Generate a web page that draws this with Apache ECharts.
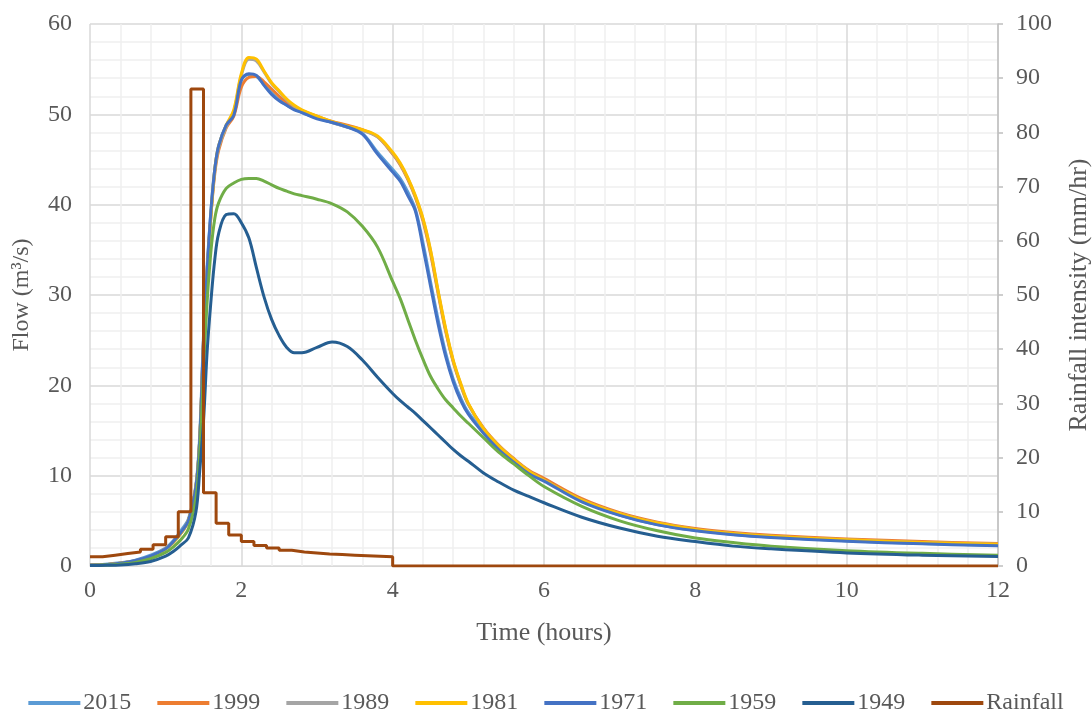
<!DOCTYPE html>
<html>
<head>
<meta charset="utf-8">
<script src="https://cdn.jsdelivr.net/npm/echarts@6/dist/echarts.min.js"></script>
<style>
  html, body { margin: 0; padding: 0; background: #fff; }
  #main { width: 1092px; height: 710px; }
</style>
</head>
<body>
<div id="main"></div>
<script>
  // time axis (hours), shared by all flow series
  var hours = [0, 0.2, 0.4, 0.6, 0.8, 1.0, 1.1, 1.2, 1.3, 1.4, 1.45, 1.5, 1.55, 1.6, 1.65, 1.7, 1.8, 1.9, 2.0, 2.1,
    2.2, 2.3, 2.4, 2.5, 2.6, 2.7, 2.8, 3.0, 3.2, 3.4, 3.6, 3.8, 4.0, 4.1, 4.2, 4.3, 4.4, 4.5, 4.6, 4.7,
    4.8, 4.9, 5.0, 5.2, 5.4, 5.6, 5.8, 6.0, 6.5, 7.0, 7.5, 8.0, 8.5, 9.0, 10.0, 11.0, 12.0];

  // flow (m3/s)
  var flow2015 = [0.1, 0.2, 0.35, 0.65, 1.2, 2.0, 2.8, 3.9, 5.2, 9.0, 14.5, 25.5, 33.5, 39.5, 44.0, 46.5, 48.8, 50.0, 53.8, 54.4,
    54.2, 53.3, 52.4, 51.6, 51.0, 50.6, 50.2, 49.6, 49.1, 48.6, 47.9, 45.8, 43.9, 42.9, 41.4, 39.5, 35.8, 31.5, 27.3, 23.6,
    20.7, 18.6, 17.0, 14.9, 13.1, 11.6, 10.3, 9.5, 7.2, 5.65, 4.6, 3.95, 3.5, 3.2, 2.8, 2.5, 2.3];
  var flow1999 = [0.1, 0.15, 0.3, 0.55, 1.0, 1.9, 2.6, 3.6, 5.0, 8.8, 14.0, 25.0, 33.0, 39.0, 43.5, 46.0, 48.5, 49.8, 53.0, 54.1,
    54.2, 53.6, 52.8, 52.0, 51.3, 50.8, 50.4, 49.8, 49.2, 48.8, 48.3, 47.5, 45.6, 44.4, 42.8, 40.8, 38.2, 34.6, 30.2, 26.0,
    22.6, 20.0, 17.9, 15.3, 13.4, 11.9, 10.6, 9.7, 7.45, 5.9, 4.85, 4.15, 3.7, 3.4, 3.0, 2.7, 2.5];
  var flow1989 = [0.1, 0.15, 0.3, 0.55, 1.0, 1.9, 2.6, 3.6, 5.0, 8.8, 14.0, 24.5, 32.5, 39.0, 43.8, 46.3, 48.6, 50.3, 54.3, 56.1,
    55.9, 54.7, 53.4, 52.5, 51.6, 50.9, 50.4, 49.7, 49.1, 48.6, 48.2, 47.5, 45.7, 44.5, 42.9, 40.9, 38.4, 34.9, 30.4, 26.2,
    22.7, 20.1, 17.9, 15.2, 13.3, 11.8, 10.5, 9.5, 7.3, 5.8, 4.75, 4.05, 3.6, 3.3, 2.9, 2.6, 2.4];
  var flow1981 = [0.1, 0.15, 0.3, 0.55, 1.0, 1.9, 2.6, 3.6, 5.0, 8.8, 14.0, 24.5, 32.5, 39.0, 44.0, 46.5, 48.8, 50.5, 54.5, 56.3,
    56.1, 54.8, 53.5, 52.6, 51.7, 51.0, 50.5, 49.8, 49.2, 48.7, 48.3, 47.6, 45.8, 44.6, 43.0, 41.0, 38.5, 35.0, 30.5, 26.3,
    22.8, 20.2, 18.0, 15.2, 13.3, 11.8, 10.5, 9.5, 7.3, 5.8, 4.75, 4.05, 3.6, 3.3, 2.9, 2.6, 2.4];
  var flow1971 = [0.1, 0.15, 0.3, 0.6, 1.1, 1.9, 2.7, 3.7, 5.0, 8.8, 14.0, 25.0, 33.0, 39.5, 44.0, 46.5, 48.8, 49.9, 53.8, 54.5,
    54.3, 53.2, 52.2, 51.5, 51.0, 50.5, 50.2, 49.5, 49.1, 48.6, 47.8, 45.6, 43.6, 42.6, 41.0, 39.3, 35.3, 31.0, 26.8, 23.2,
    20.4, 18.3, 16.8, 14.7, 12.9, 11.5, 10.2, 9.4, 7.1, 5.6, 4.55, 3.9, 3.45, 3.15, 2.75, 2.45, 2.25];
  var flow1959 = [0.05, 0.1, 0.2, 0.4, 0.8, 1.5, 2.1, 2.9, 4.1, 7.5, 12.5, 21.5, 29.5, 35.0, 38.5, 40.2, 41.8, 42.4, 42.8, 42.9,
    42.9, 42.6, 42.2, 41.8, 41.5, 41.2, 41.0, 40.6, 40.1, 39.2, 37.6, 35.3, 31.5, 29.6, 27.3, 25.0, 22.9, 21.0, 19.6, 18.4,
    17.5, 16.6, 15.8, 14.2, 12.6, 11.3, 10.0, 8.8, 6.6, 5.0, 3.9, 3.1, 2.6, 2.2, 1.7, 1.4, 1.2];
  var flow1949 = [0.05, 0.08, 0.12, 0.25, 0.5, 1.1, 1.6, 2.3, 3.1, 6.0, 10.5, 16.0, 24.0, 29.5, 34.0, 36.8, 38.9, 39.0, 38.0, 36.3,
    33.0, 29.8, 27.3, 25.5, 24.2, 23.6, 23.6, 24.2, 24.8, 24.3, 22.8, 20.9, 19.1, 18.3, 17.6, 16.9, 16.1, 15.3, 14.5, 13.7,
    12.9, 12.2, 11.6, 10.3, 9.3, 8.4, 7.7, 7.0, 5.4, 4.2, 3.3, 2.7, 2.2, 1.9, 1.45, 1.2, 1.05];

  // rainfall (mm/hr), 10-minute blocks starting at these minutes
  var rainMinutes = [0, 10, 20, 30, 40, 50, 60, 70, 80, 90, 100, 110, 120, 130, 140, 150, 160, 170, 180, 190, 200, 210, 220, 230, 240, 720];
  var rainIntensity = [1.7, 2.0, 2.3, 2.6, 3.1, 3.9, 5.4, 10.0, 88.0, 13.5, 7.9, 5.7, 4.5, 3.8, 3.3, 2.9, 2.6, 2.4, 2.2, 2.1, 2.0, 1.9, 1.8, 1.7, 0, 0];

  var flowNames = ['2015', '1999', '1989', '1981', '1971', '1959', '1949'];
  var flowData = [flow2015, flow1999, flow1989, flow1981, flow1971, flow1959, flow1949];
  var colors = ['#5b9bd5', '#ed7d31', '#a5a5a5', '#ffc000', '#4472c4', '#70ad47', '#255e91', '#9e480e'];

  function pairs(xs, ys) {
    return xs.map(function (x, i) { return [x, ys[i]]; });
  }

  var series = flowNames.map(function (name, i) {
    return {
      name: name,
      type: 'line',
      yAxisIndex: 0,
      smooth: 0.35,
      showSymbol: false,
      lineStyle: { width: 3, color: colors[i], join: 'round' },
      itemStyle: { color: colors[i] },
      data: pairs(hours, flowData[i])
    };
  });
  series.push({
    name: 'Rainfall',
    type: 'line',
    yAxisIndex: 1,
    step: 'end',
    showSymbol: false,
    lineStyle: { width: 3, color: colors[7] },
    itemStyle: { color: colors[7] },
    data: pairs(rainMinutes.map(function (m) { return m / 60; }), rainIntensity)
  });

  var txt = '#595959';
  var font = 'Liberation Serif, Times New Roman, serif';

  var option = {
    animation: false,
    color: colors,
    textStyle: { fontFamily: font },
    grid: { left: 90, right: 94, top: 24, bottom: 144, containLabel: false, outerBoundsMode: 'none' },
    legend: {
      top: 686,
      left: 'center',
      icon: 'rect',
      itemWidth: 52,
      itemHeight: 4,
      itemGap: 26,
      textStyle: { color: txt, fontSize: 24, fontFamily: font, padding: [0, 0, 0, -2] },
      data: flowNames.concat(['Rainfall'])
    },
    xAxis: {
      type: 'value',
      min: 0, max: 12, interval: 2,
      name: 'Time (hours)',
      nameLocation: 'middle',
      nameGap: 54,
      nameTextStyle: { color: txt, fontSize: 26, fontFamily: font },
      axisLine: { show: true, lineStyle: { color: '#d9d9d9', width: 1 } },
      axisTick: { show: false },
      axisLabel: { color: txt, fontSize: 24, margin: 13, fontFamily: font },
      splitLine: { show: true, lineStyle: { color: '#d9d9d9', width: 1.5 } },
      minorTick: { show: false, splitNumber: 5 },
      minorSplitLine: { show: true, lineStyle: { color: '#f0f0f0', width: 1.5 } }
    },
    yAxis: [
      {
        type: 'value',
        min: 0, max: 60, interval: 10,
        name: 'Flow (m³/s)',
        nameLocation: 'middle',
        nameGap: 56,
        nameTextStyle: { color: txt, fontSize: 24, fontFamily: font },
        axisLine: { show: false },
        axisTick: { show: false },
        axisLabel: { color: txt, fontSize: 24, margin: 18, fontFamily: font },
        splitLine: { show: true, lineStyle: { color: '#d9d9d9', width: 1.5 } },
        minorTick: { show: false, splitNumber: 5 },
        minorSplitLine: { show: true, lineStyle: { color: '#f0f0f0', width: 1.5 } }
      },
      {
        type: 'value',
        min: 0, max: 100, interval: 10,
        position: 'right',
        name: 'Rainfall intensity (mm/hr)',
        nameLocation: 'middle',
        nameGap: 68,
        nameRotate: 90,
        nameTextStyle: { color: txt, fontSize: 26, fontFamily: font },
        axisLine: { show: true, lineStyle: { color: '#bfbfbf', width: 1.5 } },
        axisTick: { show: true, inside: false, length: 5, lineStyle: { color: '#bfbfbf', width: 1.5 } },
        axisLabel: { color: txt, fontSize: 24, margin: 18, fontFamily: font },
        splitLine: { show: false }
      }
    ],
    series: series
  };

  var myChart = echarts.init(document.getElementById('main'), null, { renderer: 'canvas' });
  myChart.setOption(option);
</script>
</body>
</html>
